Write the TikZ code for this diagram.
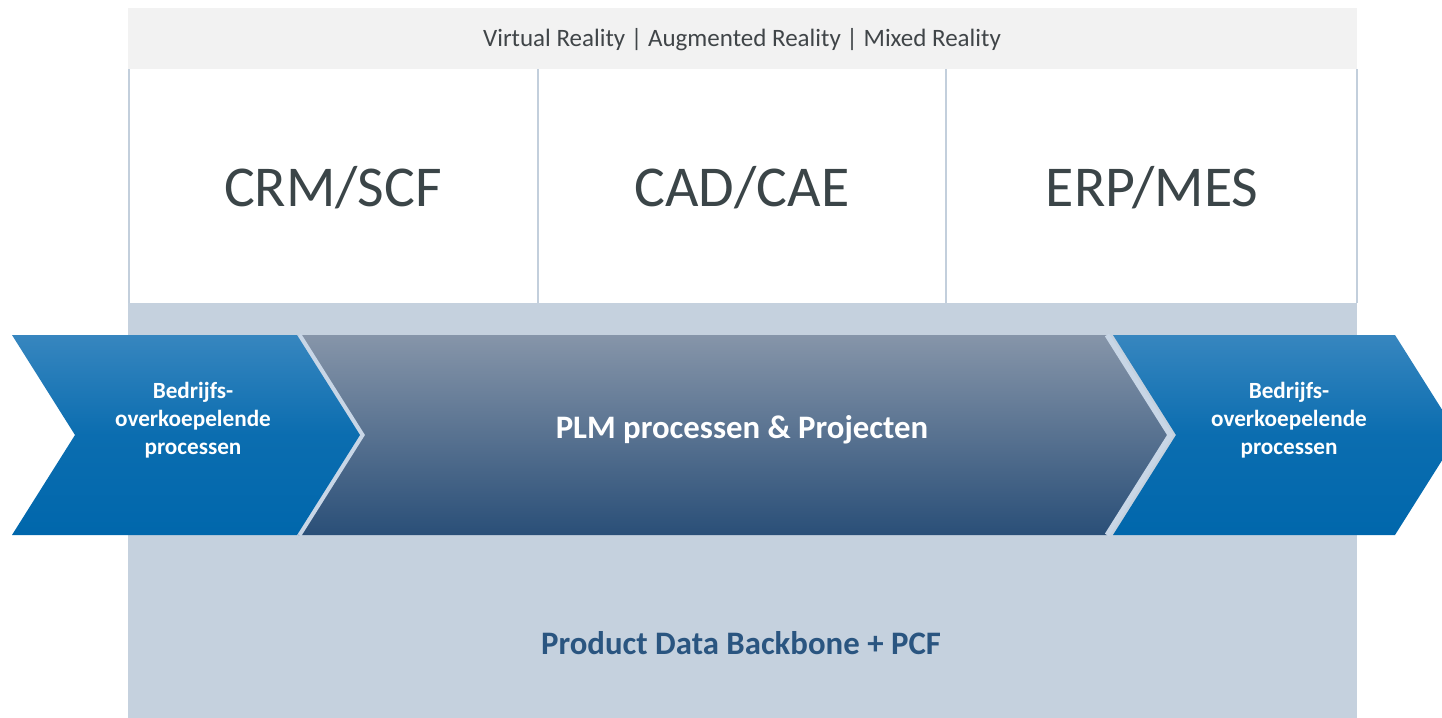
\documentclass[tikz,border=0pt]{standalone}
\usepackage{fontspec}
\setmainfont{Carlito}
\definecolor{topbar}{HTML}{F2F2F2}
\definecolor{backbone}{HTML}{C5D1DE}
\definecolor{sepline}{HTML}{C3CFDC}
\definecolor{darktext}{HTML}{3B4548}
\definecolor{toptext}{HTML}{404548}
\definecolor{bluetop}{HTML}{3786BF}
\definecolor{bluebot}{HTML}{0067AC}
\definecolor{greytop}{HTML}{8695A9}
\definecolor{greybot}{HTML}{2A4F78}
\definecolor{edge}{HTML}{C8D6E6}
\definecolor{pdbtext}{HTML}{2A5580}
\tikzset{
  bluechev/.style={top color=bluetop, bottom color=bluebot, middle color=bluebot!80!bluetop},
  greychev/.style={top color=greytop, bottom color=greybot},
  bigsys/.style={font=\fontsize{28.9}{30}\selectfont, text=darktext, anchor=center},
  chevtext/.style={font=\fontsize{11.6}{14}\selectfont\bfseries, text=white, align=center, anchor=center},
  bigbold/.style={font=\fontsize{16.4}{18}\selectfont\bfseries, anchor=center},
}
\begin{document}
\begin{tikzpicture}[x=0.5pt,y=-0.5pt]
\useasboundingbox (0,0) rectangle (1442,718);
\begin{scope}
\clip (0,0) rectangle (1442,718);
% backgrounds
\fill[backbone] (128,303) rectangle (1357,718);
\fill[topbar] (128,8) rectangle (1357,69);
\fill[white] (128,69) rectangle (1357,303);
\draw[sepline, line width=1pt] (128.5,69) -- (128.5,303);
\draw[sepline, line width=1pt] (538,69) -- (538,303);
\draw[sepline, line width=1pt] (946,69) -- (946,303);
\draw[sepline, line width=1pt] (1356.5,69) -- (1356.5,303);
% chevrons
\shade[greychev] (298,335) -- (1107,335) -- (1170,435) -- (1107,535) -- (298,535) -- (361,435) -- cycle;
\draw[edge, line width=2.5pt] (299,335) -- (362,435) -- (299,535);
\draw[edge, line width=2.5pt] (1107,335) -- (1170,435) -- (1107,535);
\shade[bluechev] (12,335) -- (297,335) -- (360,435) -- (297,535) -- (12,535) -- (75,435) -- cycle;
\shade[bluechev] (1113,335) -- (1395,335) -- (1458,435) -- (1395,535) -- (1113,535) -- (1176,435) -- cycle;
\end{scope}
% texts
\node[font=\fontsize{12.5}{14}\selectfont, text=toptext, anchor=center] (vr) at (742,40) {Virtual Reality | Augmented Reality | Mixed Reality};
\node[bigsys] (crm) at (333,188) {CRM/SCF};
\node[bigsys] (cad) at (742,188) {CAD/CAE};
\node[bigsys] (erp) at (1152,188) {ERP/MES};
\node[chevtext] (lproc) at (193,420) {Bedrijfs-\\overkoepelende\\processen};
\node[chevtext] (rproc) at (1289,420) {Bedrijfs-\\overkoepelende\\processen};
\node[bigbold, text=white] (plm) at (742,430) {PLM processen \& Projecten};
\node[bigbold, text=pdbtext] (pdb) at (741,643) {Product Data Backbone + PCF};
\end{tikzpicture}
\end{document}
